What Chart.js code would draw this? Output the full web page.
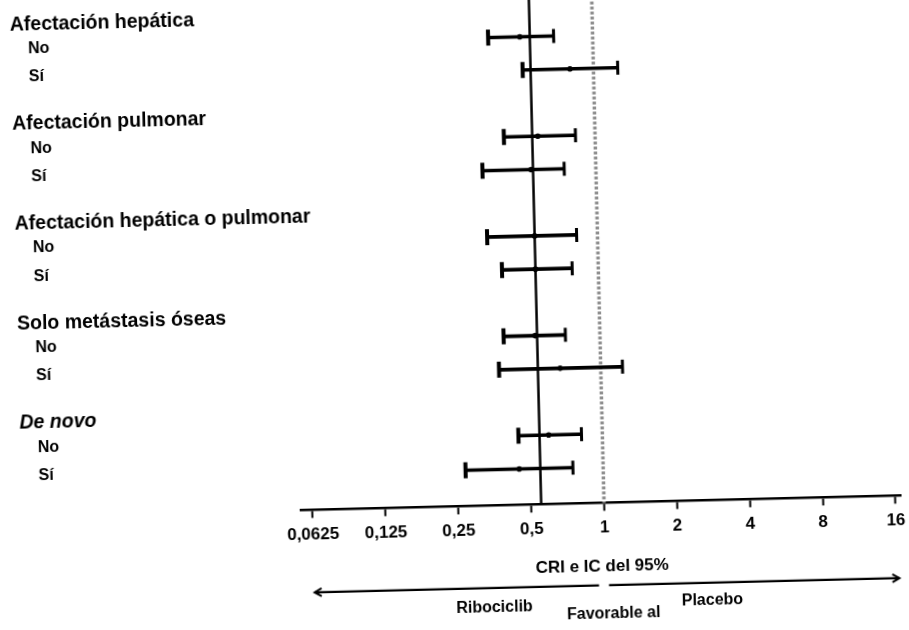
<!DOCTYPE html>
<html>
<head>
<meta charset="utf-8">
<script src="https://cdn.jsdelivr.net/npm/chart.js@4/dist/chart.umd.min.js"></script>
<style>
html, body { margin: 0; padding: 0; background: #fff; overflow: hidden; width: 909px; height: 630px; }
#wrap { position: absolute; left: 0; top: 0; width: 909px; height: 630px; transform: rotate(-1.4deg); transform-origin: 50% 50%; }
canvas { display: block; }
</style>
</head>
<body>
<div id="wrap"><canvas id="c" width="909" height="630"></canvas></div>
<script>
// ---- data ----
const rowLabels = [
  'Afectación hepática', 'No', 'Sí',
  'Afectación pulmonar', 'No', 'Sí',
  'Afectación hepática o pulmonar', 'No', 'Sí',
  'Solo metástasis óseas', 'No', 'Sí',
  'De novo', 'No', 'Sí'
];
const hazardRatio = [null, 0.50, 0.80, null, 0.58, 0.54, null, 0.55, 0.55, null, 0.54, 0.68, null, 0.60, 0.45];
const ciLower     = [null, 0.37, 0.51, null, 0.42, 0.34, null, 0.35, 0.40, null, 0.40, 0.38, null, 0.45, 0.27];
const ciUpper     = [null, 0.69, 1.26, null, 0.83, 0.74, null, 0.82, 0.78, null, 0.72, 1.23, null, 0.82, 0.75];
const overallHR = [0.55];
const referenceHR = [1];
const xTickValues = [0.0625, 0.125, 0.25, 0.5, 1, 2, 4, 8, 16];
const xTickLabels = ['0,0625', '0,125', '0,25', '0,5', '1', '2', '4', '8', '16'];
const xAxisTitle = 'CRI e IC del 95%';
const directionLabels = ['Ribociclib', 'Favorable al', 'Placebo'];

// ---- build datasets from the arrays ----
const barData = [], lowData = [], highData = [], pointData = [];
hazardRatio.forEach((v, i) => {
  if (v === null) return;
  barData.push({ y: i, x: [ciLower[i], ciUpper[i]] });
  lowData.push({ x: ciLower[i], y: i });
  highData.push({ x: ciUpper[i], y: i });
  pointData.push({ x: v, y: i });
});
const isHeader = i => hazardRatio[i] === null;

const FONT = "'Liberation Sans', Arial, Helvetica, sans-serif";
Chart.defaults.font.family = FONT;
Chart.defaults.color = '#000';

const refLinesPlugin = {
  id: 'refLines',
  beforeDatasetsDraw(chart) {
    const { ctx, chartArea } = chart;
    const xs = chart.scales.x;
    ctx.save();
    ctx.strokeStyle = '#8e8e8e';
    ctx.lineWidth = 3.5;
    ctx.setLineDash([3, 2]);
    referenceHR.forEach(v => {
      const px = xs.getPixelForValue(v);
      ctx.beginPath(); ctx.moveTo(px, chartArea.top); ctx.lineTo(px, chartArea.bottom); ctx.stroke();
    });
    ctx.setLineDash([]);
    ctx.strokeStyle = '#000';
    ctx.lineWidth = 2.5;
    overallHR.forEach(v => {
      const px = xs.getPixelForValue(v);
      ctx.beginPath(); ctx.moveTo(px, chartArea.top); ctx.lineTo(px, chartArea.bottom); ctx.stroke();
    });
    ctx.restore();
  }
};

const directionPlugin = {
  id: 'direction',
  afterDraw(chart) {
    const { ctx, chartArea } = chart;
    const xs = chart.scales.x;
    const b = chartArea.bottom;
    const p1 = xs.getPixelForValue(referenceHR[0]);
    const xl = xs.getPixelForValue(xTickValues[0]);
    const xr = xs.getPixelForValue(xTickValues[xTickValues.length - 1]) + 2;
    const y = b + 82.5;
    ctx.save();
    ctx.strokeStyle = '#000';
    ctx.lineWidth = 2.2;
    ctx.beginPath();
    ctx.moveTo(xl, y); ctx.lineTo(p1 - 7, y);
    ctx.moveTo(p1 + 3, y); ctx.lineTo(xr, y);
    ctx.stroke();
    ctx.lineWidth = 2;
    ctx.beginPath();
    ctx.moveTo(xl + 7, y - 4); ctx.lineTo(xl, y); ctx.lineTo(xl + 7, y + 4);
    ctx.moveTo(xr - 7, y - 4); ctx.lineTo(xr, y); ctx.lineTo(xr - 7, y + 4);
    ctx.stroke();
    ctx.fillStyle = '#000';
    ctx.font = 'bold 16px ' + FONT;
    ctx.textAlign = 'center';
    ctx.textBaseline = 'middle';
    ctx.fillText(directionLabels[0], p1 - 112, b + 102.5);
    ctx.fillText(directionLabels[1], p1 + 7, b + 111);
    ctx.fillText(directionLabels[2], p1 + 106, b + 100.5);
    ctx.restore();
  }
};

new Chart(document.getElementById('c'), {
  type: 'bar',
  data: {
    datasets: [
      { type: 'bar', indexAxis: 'y', data: barData, backgroundColor: '#000', borderWidth: 0, barThickness: 3, order: 3 },
      { type: 'scatter', data: lowData, pointStyle: 'line', rotation: 90, radius: 8, borderWidth: 4, borderColor: '#000', order: 2 },
      { type: 'scatter', data: highData, pointStyle: 'line', rotation: 90, radius: 7, borderWidth: 3, borderColor: '#000', order: 2 },
      { type: 'scatter', data: pointData, pointStyle: 'circle', radius: 2.8, backgroundColor: '#000', borderColor: '#000', borderWidth: 0, order: 1 }
    ]
  },
  options: {
    responsive: false,
    animation: false,
    devicePixelRatio: 1,
    layout: { autoPadding: false, padding: { left: 17, right: 13, top: 0, bottom: 49.4 } },
    plugins: { legend: { display: false }, tooltip: { enabled: false } },
    scales: {
      x: {
        type: 'logarithmic',
        position: 'bottom',
        offset: false,
        min: 0.0558,
        max: 16.8,
        bounds: 'data',
        afterBuildTicks: s => { s.ticks = xTickValues.map(v => ({ value: v })); },
        ticks: {
          autoSkip: false, maxRotation: 0, padding: 6.5,
          font: { size: 17, weight: 'bold' },
          color: '#000',
          callback: (v, i) => xTickLabels[i]
        },
        grid: { display: true, offset: false, drawOnChartArea: false, drawTicks: true, tickLength: 8, tickWidth: 2, tickColor: '#000', color: '#000' },
        border: { display: true, color: '#000', width: 2.5 },
        title: { display: true, text: xAxisTitle, color: '#000', font: { size: 17, weight: 'bold' }, padding: { top: 12.4, bottom: 0 } }
      },
      y: {
        type: 'linear',
        reverse: true,
        offset: false,
        min: -0.16,
        max: 15.08,
        afterBuildTicks: s => { s.ticks = rowLabels.map((_, i) => ({ value: i })); },
        afterFit: s => {
          s.width = 279; s.paddingTop = 0; s.paddingBottom = 0;
          s._computeLabelArea = () => undefined; // let long group titles overflow like the original
        },
        ticks: {
          autoSkip: false,
          crossAlign: 'far',
          color: '#000',
          callback: v => {
            const label = rowLabels[v];
            if (isHeader(v)) return ['', label];
            if (label === 'Sí') return ['    ' + label, ''];
            return '    ' + label;
          },
          font: ctx => {
            const i = ctx.index;
            if (isHeader(i)) {
              return { size: 19.5, weight: 'bold', style: rowLabels[i] === 'De novo' ? 'italic' : 'normal', lineHeight: 18 / 19.5 };
            }
            if (rowLabels[i] === 'Sí') return { size: 16, weight: 'bold', lineHeight: 10 / 16 };
            return { size: 16, weight: 'bold', lineHeight: 1.2 };
          }
        },
        grid: { display: false, offset: false },
        border: { display: false }
      }
    }
  },
  plugins: [refLinesPlugin, directionPlugin]
});
</script>
</body>
</html>
